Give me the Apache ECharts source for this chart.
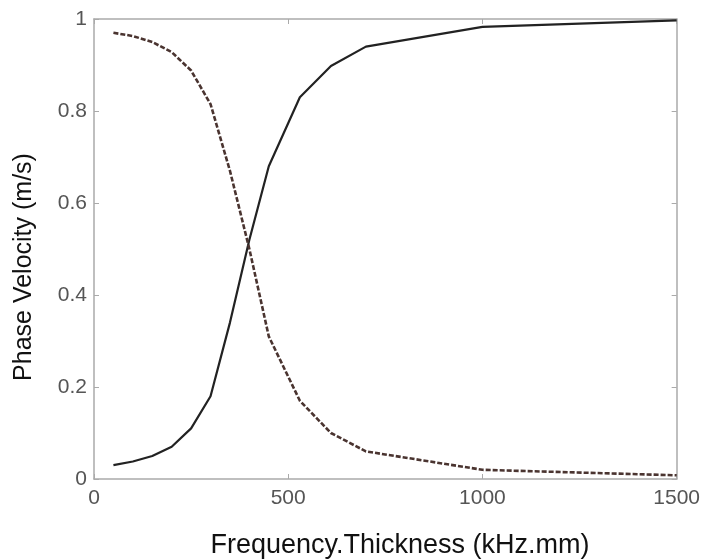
<!DOCTYPE html>
<html>
<head>
<meta charset="utf-8">
<script src="https://cdn.jsdelivr.net/npm/echarts@6/dist/echarts.min.js"></script>
<style>html,body{margin:0;padding:0;background:#fff}#c{width:703px;height:560px}</style>
</head>
<body>
<div id="c"></div>
<script>
var xValues = [50, 100, 150, 200, 250, 300, 350, 400, 450, 530, 610, 700, 1000, 1500];
var solidValues = [0.03, 0.038, 0.05, 0.07, 0.11, 0.18, 0.34, 0.52, 0.68, 0.83, 0.898, 0.94, 0.983, 0.997];
var dashedValues = [0.97, 0.963, 0.95, 0.928, 0.888, 0.815, 0.67, 0.5, 0.31, 0.17, 0.10, 0.06, 0.02, 0.008];
var xTicks = [0, 500, 1000, 1500];
var yTicks = [0, 0.2, 0.4, 0.6, 0.8, 1];
var xTitle = 'Frequency.Thickness (kHz.mm)';
var yTitle = 'Phase Velocity (m/s)';

function pairs(xs, ys) { return xs.map(function (x, i) { return [x, ys[i]]; }); }

var chart = echarts.init(document.getElementById('c'), null, { renderer: 'canvas' });
var frameLine = { color: '#aaaaaa', width: 1.5 };
var font = 'Liberation Sans, Arial, sans-serif';
function tickCfg() { return { show: true, inside: true, length: 5, lineStyle: { color: '#aaaaaa' } }; }
chart.setOption({
  animation: false,
  backgroundColor: '#ffffff',
  grid: { left: 94, right: 26, top: 19, bottom: 81, containLabel: false },
  xAxis: [
    { type: 'value', min: 0, max: 1500, interval: 500, position: 'bottom',
      axisLine: { show: true, onZero: false, lineStyle: frameLine },
      axisTick: tickCfg(),
      axisLabel: { color: '#555555', fontSize: 21, fontFamily: font, margin: 9,
        formatter: function (v) { return xTicks.indexOf(v) >= 0 ? String(v) : ''; } },
      splitLine: { show: false } },
    { type: 'value', min: 0, max: 1500, interval: 500, position: 'top',
      axisLine: { show: true, onZero: false, lineStyle: frameLine },
      axisTick: tickCfg(), axisLabel: { show: false }, splitLine: { show: false } }
  ],
  yAxis: [
    { type: 'value', min: 0, max: 1, interval: 0.2, position: 'left',
      axisLine: { show: true, onZero: false, lineStyle: frameLine },
      axisTick: tickCfg(),
      axisLabel: { color: '#555555', fontSize: 21, fontFamily: font, margin: 7,
        formatter: function (v) { var r = Math.round(v * 10) / 10; return yTicks.indexOf(r) >= 0 ? String(r) : ''; } },
      splitLine: { show: false } },
    { type: 'value', min: 0, max: 1, interval: 0.2, position: 'right',
      axisLine: { show: true, onZero: false, lineStyle: frameLine },
      axisTick: tickCfg(), axisLabel: { show: false }, splitLine: { show: false } }
  ],
  series: [
    { type: 'line', xAxisIndex: 0, yAxisIndex: 0, data: pairs(xValues, solidValues),
      showSymbol: false, smooth: false,
      lineStyle: { color: '#222222', width: 2.2, type: 'solid' } },
    { type: 'line', xAxisIndex: 0, yAxisIndex: 0, data: pairs(xValues, dashedValues),
      showSymbol: false, smooth: false,
      lineStyle: { color: '#4a3430', width: 2.6, type: [5, 2] } }
  ],
  graphic: [
    { type: 'text', x: 400, y: 546,
      style: { text: xTitle, fill: '#111111', fontSize: 27, fontFamily: font,
        textAlign: 'center', textVerticalAlign: 'middle' }, z: 10 },
    { type: 'text', x: 12, y: 267, rotation: Math.PI / 2,
      style: { text: yTitle, fill: '#111111', fontSize: 25, fontFamily: font,
        textAlign: 'center', textVerticalAlign: 'top' }, z: 10 }
  ]
});
</script>
</body>
</html>
